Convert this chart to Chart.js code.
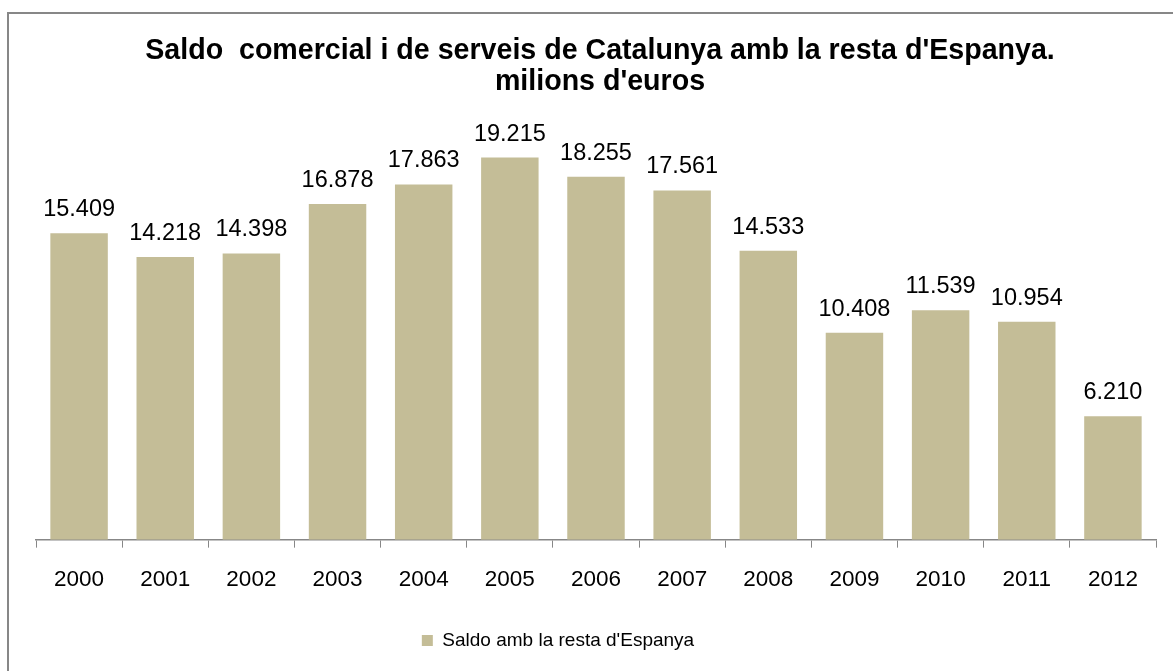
<!DOCTYPE html>
<html>
<head>
<meta charset="utf-8">
<script src="https://cdn.jsdelivr.net/npm/chart.js@4"></script>
<style>
  html, body { margin: 0; padding: 0; background: #fff; overflow: hidden; }
  #wrap { position: relative; width: 1173px; height: 671px; }
  #frame { position: absolute; left: 7px; top: 12px; width: 1220px; height: 720px; border: 2px solid #878787; }
  canvas { position: absolute; left: 0; top: 0; }
</style>
</head>
<body>
<div id="wrap">
  <div id="frame"></div>
  <canvas id="saldoChart" width="1173" height="671"></canvas>
</div>
<script>
// data (milions d'euros)
const years = ['2000', '2001', '2002', '2003', '2004', '2005', '2006', '2007', '2008', '2009', '2010', '2011', '2012'];
const saldo = [15409, 14218, 14398, 16878, 17863, 19215, 18255, 17561, 14533, 10408, 11539, 10954, 6210];
const seriesName = "Saldo amb la resta d'Espanya";
const titleLines = ["Saldo  comercial i de serveis de Catalunya amb la resta d'Espanya.", "milions d'euros"];

const FONT = '"Liberation Sans", Arial, sans-serif';

function fmt(v) {
  return String(v).replace(/\B(?=(\d{3})+(?!\d))/g, '.');
}

// value labels above each bar
const valueLabels = {
  id: 'valueLabels',
  afterDatasetsDraw(chart) {
    const ctx = chart.ctx;
    const meta = chart.getDatasetMeta(0);
    ctx.save();
    ctx.font = '23.5px ' + FONT;
    ctx.fillStyle = '#000';
    ctx.textAlign = 'center';
    ctx.textBaseline = 'alphabetic';
    meta.data.forEach((bar, i) => {
      ctx.fillText(fmt(saldo[i]), bar.x, bar.y - 17);
    });
    ctx.restore();
  }
};

// legend sits a bit left of centre in the original, title a bit right
const nudge = {
  id: 'nudge',
  afterLayout(chart) {
    chart.legend.left -= 38;
    chart.legend.right -= 38;
    chart.titleBlock.left += 4;
    chart.titleBlock.right += 4;
  }
};

window.addEventListener('DOMContentLoaded', () => {
  const ctx = document.getElementById('saldoChart');
  new Chart(ctx, {
    type: 'bar',
    data: {
      labels: years,
      datasets: [{
        label: seriesName,
        data: saldo,
        backgroundColor: '#C4BD97',
        borderWidth: 0,
        categoryPercentage: 1,
        barPercentage: 0.667
      }]
    },
    options: {
      responsive: false,
      animation: false,
      layout: { padding: { left: 36, right: 17, top: 0, bottom: 11 } },
      plugins: {
        title: {
          display: true,
          text: titleLines,
          color: '#000',
          font: { family: FONT, size: 28.6, weight: 'bold', lineHeight: '31px' },
          padding: { top: 35.5, bottom: 44.5 }
        },
        legend: {
          position: 'bottom',
          labels: {
            color: '#000',
            font: { family: FONT, size: 19 },
            boxWidth: 11,
            boxHeight: 11,
            padding: 19.75
          }
        },
        tooltip: { enabled: false }
      },
      scales: {
        x: {
          grid: { drawOnChartArea: false, drawTicks: true, tickLength: 8, color: '#878787', lineWidth: 1 },
          border: { color: '#878787', width: 1.5 },
          ticks: { color: '#000', font: { family: FONT, size: 22.5 }, padding: 18.3 }
        },
        y: {
          display: false,
          min: 0,
          max: 20000
        }
      }
    },
    plugins: [valueLabels, nudge]
  });
});
</script>
</body>
</html>
